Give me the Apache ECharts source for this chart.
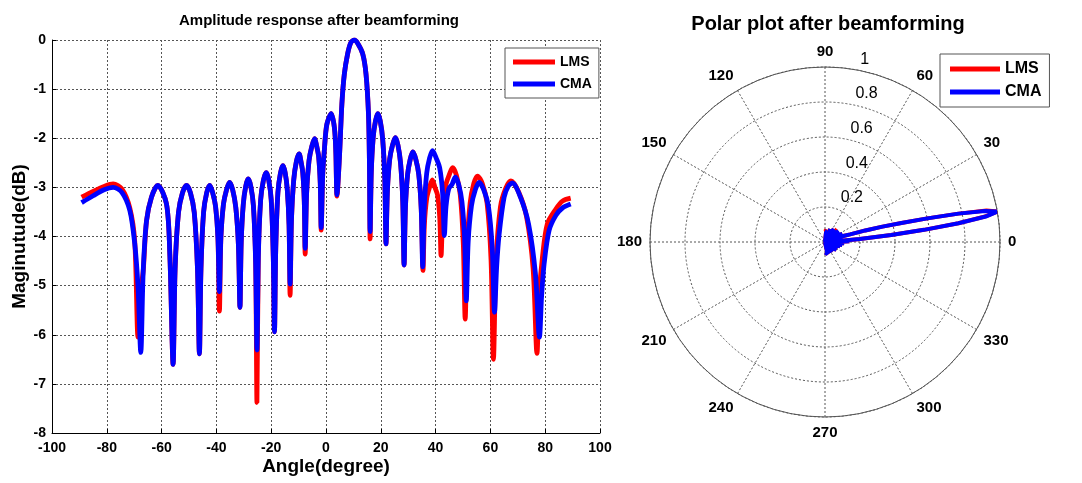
<!DOCTYPE html>
<html><head><meta charset="utf-8">
<script src="https://cdn.jsdelivr.net/npm/echarts@6/dist/echarts.min.js"></script>
<style>html,body{margin:0;padding:0;background:#fff}#c{width:1082px;height:483px}</style>
</head><body><div id="c"></div>
<script>
// ---- Amplitude response (dB) ----
const cmaAngle = [-89.2,-85,-81,-77.7,-74.5,-71.6,-69.8,-68.6,-67.6,
 -66.7,-65.5,-63.7,-61.4,-58.2,-57.0,-55.8,
 -55.07,-53.84,-52.37,-50.9,-49.49,-48.08,-46.9,-46.2,
 -45.63,-44.68,-43.54,-42.4,-41.35,-40.3,-39.43,-38.9,
 -38.35,-37.42,-36.31,-35.2,-34.06,-32.92,-31.97,-31.4,
 -30.95,-30.2,-29.3,-28.4,-27.44,-26.48,-25.68,-25.2,
 -24.69,-23.84,-22.82,-21.8,-20.9,-20.0,-19.25,-18.8,
 -18.34,-17.56,-16.63,-15.7,-14.88,-14.14,-13.49,-13.1,
 -12.6,-11.78,-10.79,-9.8,-9.14,-8.48,-7.93,-7.6,
 -7.08,-6.2,-5.15,-4.1,-3.4,-2.69,-2.1,-1.75,
 -1.2,-0.55,0.3,1.9,3.1,3.6,4.0,
 4.9,5.8,6.7,7.9,9.0,10.3,11.6,13.4,14.6,15.5,15.85,16.1,
 16.52,17.22,18.06,18.9,19.8,20.7,21.45,21.9,
 22.41,23.26,24.28,25.3,26.26,27.22,28.02,28.5,
 28.98,29.78,30.74,31.7,32.78,33.86,34.76,35.3,
 35.84,36.74,37.82,38.9,40.19,41.48,42.56,43.2,
 43.8,44.8,46.0,47.2,48.4,49.6,50.6,51.2,
 51.9,53.08,54.49,55.9,57.58,59.26,60.66,61.5,
 62.3,63.2,65.0,66.5,68.0,70.97,73.94,76.42,77.9,
 78.7,79.6,81.4,83.9,86.3,89.3];
const cmaDb = [-3.31,-3.17,-3.05,-3.00,-3.10,-3.47,-4.15,-5.03,-6.36,
 -4.69,-3.68,-3.20,-2.96,-3.34,-4.36,-6.60,
 -4.66,-3.51,-3.11,-2.96,-3.11,-3.51,-4.66,-6.39,
 -4.66,-3.51,-3.11,-2.96,-3.11,-3.39,-4.04,-5.12,
 -4.01,-3.34,-3.05,-2.90,-3.05,-3.41,-4.17,-5.44,
 -4.13,-3.35,-2.98,-2.83,-2.98,-3.38,-4.53,-6.31,
 -4.40,-3.25,-2.85,-2.70,-2.85,-3.25,-4.40,-5.94,
 -4.26,-3.11,-2.71,-2.56,-2.71,-3.04,-3.76,-4.97,
 -3.65,-2.85,-2.47,-2.32,-2.47,-2.70,-3.28,-4.24,
 -3.13,-2.46,-2.16,-2.01,-2.16,-2.37,-2.91,-3.82,
 -2.75,-2.20,-1.72,-1.50,-1.80,-2.30,-3.15,
 -2.39,-1.30,-0.69,-0.28,-0.06,0.00,-0.07,-0.28,-0.69,-1.50,-2.50,-3.90,
 -2.70,-1.98,-1.65,-1.50,-1.65,-2.03,-2.82,-4.15,
 -3.07,-2.42,-2.14,-1.99,-2.14,-2.51,-3.29,-4.58,
 -3.43,-2.74,-2.43,-2.28,-2.43,-2.74,-3.45,-4.62,
 -3.44,-2.72,-2.40,-2.25,-2.40,-2.60,-3.12,-3.98,
 -3.39,-3.03,-2.94,-2.79,-2.94,-3.29,-4.05,-5.31,
 -4.10,-3.38,-3.05,-2.90,-3.05,-3.38,-4.22,-5.54,
 -4.60,-3.95,-3.20,-2.98,-2.91,-3.20,-3.75,-4.75,-6.05,
 -5.20,-4.56,-3.88,-3.57,-3.42,-3.34];

const lmsAngle = [-89.2,-85,-81,-77.7,-74.5,-71.6,-69.8,-68.6,-67.6,
 -66.7,-65.5,-63.7,-61.4,-58.2,-57.0,-55.8,
 -55.07,-53.84,-52.37,-50.9,-49.49,-48.08,-46.9,-46.2,
 -45.63,-44.68,-43.54,-42.4,-41.35,-40.3,-39.43,-38.9,
 -38.35,-37.42,-36.31,-35.2,-34.06,-32.92,-31.97,-31.4,
 -30.95,-30.2,-29.3,-28.4,-27.44,-26.48,-25.68,-25.2,
 -24.69,-23.84,-22.82,-21.8,-20.9,-20.0,-19.25,-18.8,
 -18.34,-17.56,-16.63,-15.7,-14.88,-14.14,-13.49,-13.1,
 -12.6,-11.78,-10.79,-9.8,-9.14,-8.48,-7.93,-7.6,
 -7.08,-6.2,-5.15,-4.1,-3.4,-2.69,-2.1,-1.75,
 -1.2,-0.55,0.3,1.9,3.1,3.6,4.0,
 4.9,5.8,6.7,7.9,9.0,10.3,11.6,13.4,14.6,15.5,15.85,16.1,
 16.52,17.22,18.06,18.9,19.8,20.7,21.45,21.9,
 22.41,23.26,24.28,25.3,26.26,27.22,28.02,28.5,
 28.98,29.78,30.74,31.7,32.78,33.86,34.76,35.4,
 35.9,36.76,37.78,38.8,39.76,40.72,41.52,42.0,
 42.63,43.68,44.94,46.2,47.58,49.0,50.11,50.8,
 51.48,52.6,53.95,55.3,57.04,58.78,60.23,61.1,
 62.06,63.66,65.58,67.5,70.35,73.2,75.58,77.0,
 77.8,79.0,80.8,83.9,86.3,89.3];
const lmsDb = [-3.20,-3.08,-2.98,-2.93,-3.03,-3.42,-4.10,-6.05,-5.10,
 -4.69,-3.68,-3.20,-2.96,-3.34,-4.36,-6.60,
 -4.66,-3.51,-3.11,-2.96,-3.11,-3.51,-4.66,-6.39,
 -4.66,-3.51,-3.11,-2.96,-3.11,-3.39,-4.04,-5.52,
 -4.01,-3.34,-3.05,-2.90,-3.05,-3.41,-4.17,-5.44,
 -4.13,-3.35,-2.98,-2.83,-2.98,-3.38,-4.53,-7.38,
 -4.40,-3.25,-2.85,-2.70,-2.85,-3.25,-4.40,-5.94,
 -4.26,-3.11,-2.71,-2.56,-2.71,-3.04,-3.76,-5.20,
 -3.65,-2.85,-2.47,-2.32,-2.47,-2.70,-3.28,-4.36,
 -3.13,-2.46,-2.16,-2.01,-2.16,-2.37,-2.91,-3.87,
 -2.75,-2.20,-1.72,-1.50,-1.80,-2.30,-3.18,
 -2.39,-1.30,-0.69,-0.28,-0.06,0.00,-0.07,-0.28,-0.69,-1.50,-2.50,-4.05,
 -2.70,-1.98,-1.65,-1.50,-1.65,-2.03,-2.82,-4.15,
 -3.07,-2.42,-2.14,-1.99,-2.14,-2.51,-3.29,-4.58,
 -3.43,-2.74,-2.43,-2.28,-2.43,-2.74,-3.45,-4.69,
 -3.77,-3.22,-3.00,-2.85,-3.00,-3.16,-3.62,-4.39,
 -3.50,-2.96,-2.75,-2.60,-2.75,-3.15,-4.14,-5.68,
 -4.23,-3.32,-2.92,-2.77,-2.92,-3.32,-4.47,-6.50,
 -4.50,-3.40,-3.02,-2.87,-3.10,-3.60,-4.65,-6.38,
 -5.20,-4.42,-3.74,-3.44,-3.28,-3.22];

// ---- Polar plot (linear magnitude) ----
const polarAngle = [-90,-84,-78,-73,-68,-62,-56,-51,-46,-42,-39,-35,-31,-28,-25,-22,-19,-16,-13,-10,
 -7.6,-4,-1.7,2,4,5,6,7,8,9,10,11,12,13,14,15,16,17,18,19,
 22,25,28.5,32,35.3,39,43,47,51,56,61.5,68,78,84,90];
const polarCma = [0.06,0.07,0.07,0.06,0.00,0.07,0.00,0.07,0.00,0.07,0.01,0.08,0.00,0.08,0.00,0.08,0.00,0.09,0.01,0.10,
 0.02,0.11,0.03,0.14,0.05,0.20,0.38,0.57,0.77,0.93,1.00,0.93,0.78,0.60,0.45,0.34,0.24,0.15,0.11,0.12,
 0.02,0.11,0.01,0.10,0.00,0.10,0.02,0.09,0.00,0.09,0.00,0.08,0.00,0.06,0.06];
const polarLms = [0.06,0.07,0.07,0.06,0.00,0.07,0.00,0.07,0.00,0.07,0.01,0.08,0.00,0.08,0.00,0.08,0.00,0.09,0.01,0.10,
 0.02,0.11,0.03,0.14,0.05,0.20,0.38,0.57,0.77,0.92,1.00,0.94,0.78,0.60,0.45,0.34,0.24,0.15,0.11,0.12,
 0.02,0.11,0.01,0.09,0.00,0.08,0.02,0.10,0.00,0.09,0.00,0.08,0.00,0.07,0.06];

const seriesNames = ['LMS','CMA'];
const seriesColors = ['#ff0000','#0000ff'];

const sans = "'Liberation Sans',Arial,sans-serif";
const dotted = {color:'#555', width:1, type:[2,2]};

const chart = echarts.init(document.getElementById('c'), null, {renderer:'canvas'});
const option = {
  animation:false,
  backgroundColor:'#fff',
  color: seriesColors,
  title:[
    {text:'Amplitude response after beamforming', left:314, top:8, textAlign:'center',
     textStyle:{fontFamily:sans, fontWeight:'bold', fontSize:15, color:'#000'}},
    {text:'Polar plot after beamforming', left:823, top:9, textAlign:'center',
     textStyle:{fontFamily:sans, fontWeight:'bold', fontSize:20, color:'#000'}}
  ],
  legend:[
    {data:seriesNames, orient:'vertical', left:505, top:48, icon:'rect', itemWidth:42, itemHeight:5, itemGap:8,
     padding:[7,7,7,8], borderColor:'#555', borderWidth:1, backgroundColor:'#fff',
     textStyle:{fontFamily:sans, fontWeight:'bold', fontSize:14, color:'#000'}},
    {data:seriesNames, orient:'vertical', left:940, top:54, icon:'rect', itemWidth:50, itemHeight:5, itemGap:7,
     padding:[7,8,7,10], borderColor:'#555', borderWidth:1, backgroundColor:'#fff',
     textStyle:{fontFamily:sans, fontWeight:'bold', fontSize:16, color:'#000'}}
  ],
  grid:{left:52, right:482, top:40, bottom:50},
  xAxis:{type:'value', min:-100, max:100, interval:20,
    axisLine:{show:true, onZero:false, lineStyle:{color:'#000', width:1}},
    axisTick:{show:true, inside:true, length:4, lineStyle:{color:'#000'}},
    axisLabel:{color:'#000', fontWeight:'bold', fontSize:14, fontFamily:sans, margin:8},
    splitLine:{show:true, lineStyle:dotted},
    name:'Angle(degree)', nameLocation:'middle', nameGap:24, nameMoveOverlap:false,
    nameTextStyle:{color:'#000', fontWeight:'bold', fontSize:19, fontFamily:sans}},
  yAxis:{type:'value', min:-8, max:0, interval:1,
    axisLine:{show:true, onZero:false, lineStyle:{color:'#000', width:1}},
    axisTick:{show:true, inside:true, length:4, lineStyle:{color:'#000'}},
    axisLabel:{color:'#000', fontWeight:'bold', fontSize:14, fontFamily:sans, margin:6},
    splitLine:{show:true, lineStyle:dotted},
    name:'Maginutude(dB)', nameLocation:'middle', nameGap:23, nameRotate:90, nameMoveOverlap:false,
    nameTextStyle:{color:'#000', fontWeight:'bold', fontSize:19, fontFamily:sans}},
  polar:[{center:[825,242], radius:175},{center:[825,242], radius:175}],
  angleAxis:[
    {polarIndex:0, type:'value', min:0, max:360, interval:30, startAngle:0, clockwise:false,
     axisLine:{show:true, lineStyle:{color:'#555', width:1}},
     axisTick:{show:false},
     axisLabel:{color:'#000', fontWeight:'bold', fontSize:15, fontFamily:sans, margin:8,
       formatter:v => v === 360 ? '' : String(v)},
     splitLine:{show:true, lineStyle:dotted}},
    {polarIndex:1, type:'value', min:0, max:360, interval:30, startAngle:82, clockwise:false,
     axisLine:{show:false}, axisTick:{show:false}, axisLabel:{show:false}, splitLine:{show:false}}
  ],
  radiusAxis:[
    {polarIndex:0, type:'value', min:0, max:1, interval:0.2,
     axisLine:{show:false}, axisTick:{show:false}, axisLabel:{show:false},
     splitLine:{show:true, lineStyle:dotted}},
    {polarIndex:1, type:'value', min:0, max:1, interval:0.2,
     axisLine:{show:false}, axisTick:{show:false}, splitLine:{show:false},
     axisLabel:{color:'#000', fontSize:16, fontFamily:sans, margin:-11, align:'left', verticalAlign:'bottom',
       padding:[0,0,3,0], formatter:v => v === 0 ? '' : String(v)}}
  ],
  series:[
    {name:'LMS', type:'line', xAxisIndex:0, yAxisIndex:0, symbol:'none', smooth:0.3, z:2,
     lineStyle:{color:seriesColors[0], width:4.8},
     data: lmsAngle.map((a,i)=>[a, lmsDb[i]])},
    {name:'CMA', type:'line', xAxisIndex:0, yAxisIndex:0, symbol:'none', smooth:0.3, z:3,
     lineStyle:{color:seriesColors[1], width:4.8},
     data: cmaAngle.map((a,i)=>[a, cmaDb[i]])},
    {name:'LMS', type:'line', coordinateSystem:'polar', polarIndex:0, symbol:'none', z:2,
     lineStyle:{color:seriesColors[0], width:4},
     data: polarAngle.map((a,i)=>[polarLms[i], (a+360)%360])},
    {name:'CMA', type:'line', coordinateSystem:'polar', polarIndex:0, symbol:'none', z:3,
     lineStyle:{color:seriesColors[1], width:4},
     data: polarAngle.map((a,i)=>[polarCma[i], (a+360)%360])}
  ]
};
chart.setOption(option);
</script>
</body></html>
